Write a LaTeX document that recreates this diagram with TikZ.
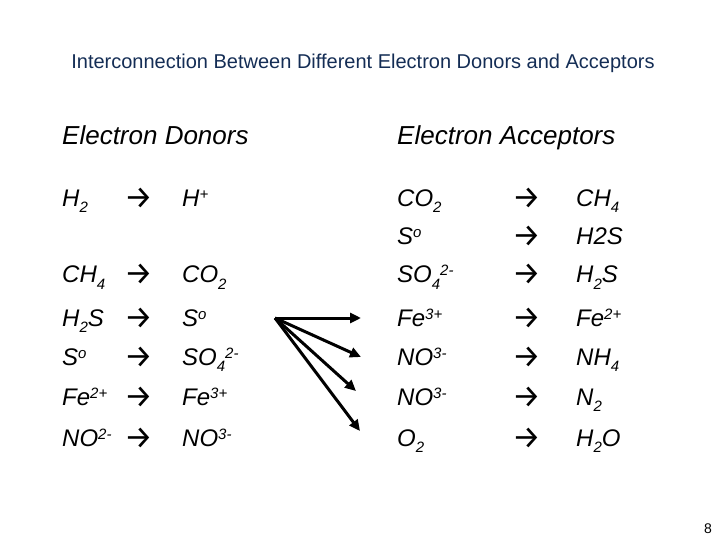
\documentclass[tikz,border=0pt]{standalone}
\usepackage{fontspec}
\setmainfont{Liberation Sans}
\newfontfamily\arrowfont{Fira Sans}
\usetikzlibrary{arrows.meta}
\definecolor{titleblue}{RGB}{20,45,85}
\newcommand{\supx}[1]{\raisebox{7bp}{\fontsize{15bp}{15bp}\selectfont #1}}
\newcommand{\subx}[1]{\raisebox{-6bp}{\fontsize{15bp}{15bp}\selectfont #1}}
\begin{document}
\begin{tikzpicture}[x=1bp,y=1bp,
  txt/.style={anchor=base west,inner sep=0pt,font=\fontsize{24bp}{28bp}\selectfont\itshape},
  head/.style={anchor=base west,inner sep=0pt,font=\fontsize{26bp}{30bp}\selectfont\itshape},
  arr/.style={anchor=base west,inner sep=0pt,yshift=-2bp,font=\fontsize{32bp}{34bp}\selectfont\arrowfont},
  fat/.style={line width=3bp,-{Triangle[length=11bp,width=10bp]}}]
\useasboundingbox (0,0) rectangle (720,-540);
\node[anchor=base,inner sep=0pt,text=titleblue,font=\fontsize{20bp}{24bp}\selectfont] (title) at (363,-69) {Interconnection Between Different Electron Donors and Acceptors};
\node[head] (hd) at (62,-145) {Electron Donors};
\node[head] (ha) at (397,-145) {Electron Acceptors};
% left column
\node[txt] (l1a) at (62,-207) {H\subx{2}};
\node[arr] (l1b) at (124,-207) {→};
\node[txt] (l1c) at (182,-207) {H\supx{+}};
\node[txt] (l2a) at (62,-283) {CH\subx{4}};
\node[arr] (l2b) at (124,-283) {→};
\node[txt] (l2c) at (182,-283) {CO\subx{2}};
\node[txt] (l3a) at (62,-326) {H\subx{2}S};
\node[arr] (l3b) at (124,-326) {→};
\node[txt] (l3c) at (182,-326) {S\supx{o}};
\node[txt] (l4a) at (62,-365) {S\supx{o}};
\node[arr] (l4b) at (124,-365) {→};
\node[txt] (l4c) at (182,-365) {SO\subx{4}\supx{2-}};
\node[txt] (l5a) at (62,-405) {Fe\supx{2+}};
\node[arr] (l5b) at (124,-405) {→};
\node[txt] (l5c) at (182,-405) {Fe\supx{3+}};
\node[txt] (l6a) at (62,-446) {NO\supx{2-}};
\node[arr] (l6b) at (124,-446) {→};
\node[txt] (l6c) at (182,-446) {NO\supx{3-}};
% right column
\node[txt] (r1a) at (397,-207) {CO\subx{2}};
\node[arr] (r1b) at (512,-207) {→};
\node[txt] (r1c) at (576,-207) {CH\subx{4}};
\node[txt] (r2a) at (397,-245) {S\supx{o}};
\node[arr] (r2b) at (512,-245) {→};
\node[txt] (r2c) at (576,-245) {H2S};
\node[txt] (r3a) at (397,-283) {SO\subx{4}\supx{2-}};
\node[arr] (r3b) at (512,-283) {→};
\node[txt] (r3c) at (576,-283) {H\subx{2}S};
\node[txt] (r4a) at (397,-326) {Fe\supx{3+}};
\node[arr] (r4b) at (512,-326) {→};
\node[txt] (r4c) at (576,-326) {Fe\supx{2+}};
\node[txt] (r5a) at (397,-365) {NO\supx{3-}};
\node[arr] (r5b) at (512,-365) {→};
\node[txt] (r5c) at (576,-365) {NH\subx{4}};
\node[txt] (r6a) at (397,-405) {NO\supx{3-}};
\node[arr] (r6b) at (512,-405) {→};
\node[txt] (r6c) at (576,-405) {N\subx{2}};
\node[txt] (r7a) at (397,-446) {O\subx{2}};
\node[arr] (r7b) at (512,-446) {→};
\node[txt] (r7c) at (576,-446) {H\subx{2}O};
% fan of arrows
\coordinate (src) at (275,-318);
\coordinate (e1) at (361,-318);
\coordinate (e2) at (361,-357);
\coordinate (e3) at (356,-391);
\coordinate (e4) at (360,-431);
\draw[fat] (src) -- (e1);
\draw[fat] (src) -- (e2);
\draw[fat] (src) -- (e3);
\draw[fat] (src) -- (e4);
\node[anchor=base,inner sep=0pt,font=\fontsize{14bp}{16bp}\selectfont] (pg) at (708,-533) {8};
\end{tikzpicture}
\end{document}
